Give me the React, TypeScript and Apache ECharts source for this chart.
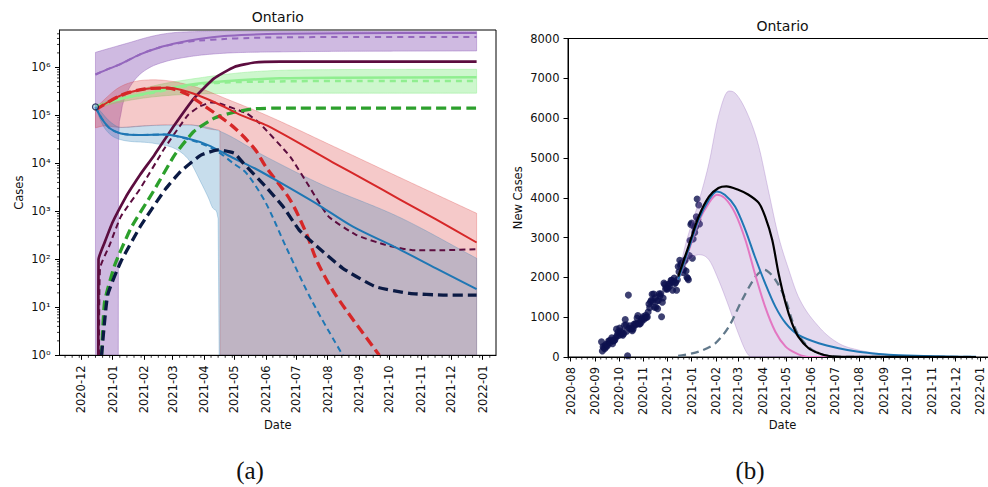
import React, { useEffect, useRef } from 'react';
import * as echarts from 'echarts';

type P = [string, number];

// ---------- tick labels ----------
const leftMonths = ['2020-12', '2021-01', '2021-02', '2021-03', '2021-04', '2021-05', '2021-06', '2021-07', '2021-08', '2021-09', '2021-10', '2021-11', '2021-12', '2022-01'];
const rightMonths = ['2020-08', '2020-09', '2020-10', '2020-11', '2020-12', '2021-01', '2021-02', '2021-03', '2021-04', '2021-05', '2021-06', '2021-07', '2021-08', '2021-09', '2021-10', '2021-11', '2021-12', '2022-01'];
const minorDays = [8, 15, 22, 29];
const logTicks = [1, 10, 100, 1000, 10000, 100000, 1000000];
const logMinorMantissas = [2, 3, 4, 5, 6, 7, 8, 9];

// ---------- panel (a) : cumulative compartments (log scale) ----------
const purpleSolid: P[] = [['2020-12-15', 7.1e5], ['2020-12-29', 9.5e5], ['2021-01-08', 1.15e6], ['2021-01-28', 1.86e6], ['2021-02-16', 2.6e6], ['2021-03-08', 3.3e6], ['2021-03-27', 3.9e6], ['2021-04-21', 4.5e6], ['2021-05-16', 4.8e6], ['2021-06-15', 5.0e6], ['2021-08-20', 5.15e6], ['2021-12-26', 5.2e6]];
const purpleDashed: P[] = [['2020-12-15', 7.1e5], ['2020-12-29', 9.5e5], ['2021-01-08', 1.15e6], ['2021-01-28', 1.86e6], ['2021-02-16', 2.6e6], ['2021-03-08', 3.2e6], ['2021-03-27', 3.6e6], ['2021-04-21', 3.9e6], ['2021-05-16', 4.1e6], ['2021-06-15', 4.2e6], ['2021-08-20', 4.3e6], ['2021-12-26', 4.3e6]];
const purpleUpper: P[] = [['2020-12-15', 2.05e6], ['2020-12-29', 2.5e6], ['2021-01-18', 3.3e6], ['2021-02-06', 4.3e6], ['2021-02-24', 5.1e6], ['2021-03-17', 5.5e6], ['2021-04-21', 5.6e6], ['2021-12-26', 5.6e6]];
const purpleLower: P[] = [['2020-12-15', 0.05], ['2021-01-06 12:00', 0.05], ['2021-01-06 18:00', 2.8e4], ['2021-01-07 12:00', 7.4e4], ['2021-01-10 12:00', 1.6e5], ['2021-01-15 12:00', 3.1e5], ['2021-01-24', 5.9e5], ['2021-02-05', 9.5e5], ['2021-02-21', 1.3e6], ['2021-03-16', 1.65e6], ['2021-04-18', 1.95e6], ['2021-06-15', 2.1e6], ['2021-12-26', 2.2e6]];

const maroonSolid: P[] = [['2020-12-17 18:00', 1], ['2020-12-18', 100], ['2020-12-24', 224], ['2021-01-01', 600], ['2021-01-14', 2000], ['2021-01-20', 3200], ['2021-01-28', 5800], ['2021-02-11', 1.48e4], ['2021-03-03', 6.3e4], ['2021-03-22', 2.24e5], ['2021-04-11', 5.9e5], ['2021-05-01', 1.02e6], ['2021-05-21', 1.26e6], ['2021-06-15', 1.31e6], ['2021-12-26', 1.31e6]];
const maroonDashed: P[] = [['2020-12-18 12:00', 1], ['2020-12-19 12:00', 65], ['2020-12-29', 200], ['2021-01-09', 776], ['2021-01-28', 2950], ['2021-02-21', 2.04e4], ['2021-03-16', 1.0e5], ['2021-03-27', 1.5e5], ['2021-04-08', 1.86e5], ['2021-04-16', 1.78e5], ['2021-05-13', 1.1e5], ['2021-05-26', 6.8e4], ['2021-06-25', 1.38e4], ['2021-07-14', 3240], ['2021-08-02', 776], ['2021-08-29', 324], ['2021-09-27', 200], ['2021-10-24', 155], ['2021-11-23', 155], ['2021-12-26', 162]];

const lightGreenSolid: P[] = [['2020-12-15', 1.5e5], ['2021-01-09', 2.2e5], ['2021-02-11', 3.1e5], ['2021-03-16', 4.3e5], ['2021-04-18', 5.1e5], ['2021-06-15', 5.9e5], ['2021-08-15', 6.1e5], ['2021-12-26', 6.2e5]];
const lightGreenDashed: P[] = [['2020-12-15', 1.5e5], ['2021-01-09', 2.2e5], ['2021-02-11', 3.0e5], ['2021-03-16', 4.1e5], ['2021-04-18', 4.8e5], ['2021-06-15', 5.1e5], ['2021-08-15', 5.2e5], ['2021-12-26', 5.2e5]];
const lightGreenUpper: P[] = [['2020-12-15', 1.6e5], ['2021-01-09', 2.5e5], ['2021-02-08', 4.0e5], ['2021-03-27', 6.0e5], ['2021-05-16', 8.0e5], ['2021-07-15', 8.9e5], ['2021-12-26', 9.1e5]];
const lightGreenLower: P[] = [['2020-12-15', 1.4e5], ['2021-01-09', 1.9e5], ['2021-02-08', 2.4e5], ['2021-03-27', 2.8e5], ['2021-06-15', 2.9e5], ['2021-12-26', 2.9e5]];

const greenDashed: P[] = [['2020-12-21', 1], ['2020-12-24', 13], ['2021-01-03', 76], ['2021-01-19', 447], ['2021-02-11', 2800], ['2021-03-03', 1.48e4], ['2021-03-22', 4.6e4], ['2021-04-11', 8.7e4], ['2021-05-01', 1.17e5], ['2021-05-21', 1.37e5], ['2021-06-15', 1.42e5], ['2021-12-26', 1.42e5]];

const redSolid: P[] = [['2020-12-15', 1.3e5], ['2021-01-09', 2.6e5], ['2021-02-02', 3.55e5], ['2021-02-24', 3.76e5], ['2021-03-16', 3.1e5], ['2021-04-11', 1.9e5], ['2021-05-08', 1.0e5], ['2021-06-03', 6.0e4], ['2021-08-06', 1.05e4], ['2021-09-08', 4370], ['2021-10-11', 1780], ['2021-11-16', 676], ['2021-12-26', 224]];
const redDashed: P[] = [['2020-12-15', 1.3e5], ['2021-01-09', 2.6e5], ['2021-02-02', 3.55e5], ['2021-02-24', 3.7e5], ['2021-03-16', 2.7e5], ['2021-04-01', 1.6e5], ['2021-04-30', 5.75e4], ['2021-05-21', 2.0e4], ['2021-06-01', 8500], ['2021-06-25', 1740], ['2021-07-11', 347], ['2021-07-22', 87], ['2021-08-09', 18], ['2021-09-17', 1.3], ['2021-09-21', 1]];
const redUpper: P[] = [['2020-12-15', 1.45e5], ['2021-01-09', 4.0e5], ['2021-02-11', 5.5e5], ['2021-03-03', 5.0e5], ['2021-03-29', 3.6e5], ['2021-04-21', 2.3e5], ['2021-06-01', 1.02e5], ['2021-08-06', 2.3e4], ['2021-10-11', 5100], ['2021-12-26', 910]];
const redLower: P[] = [['2020-12-15', 5.5e4], ['2020-12-24', 6.0e4], ['2021-01-09', 5.6e4], ['2021-02-11', 6.2e4], ['2021-03-16', 6.4e4], ['2021-04-13', 5.0e4], ['2021-04-16 18:00', 4.8e4], ['2021-04-17', 0.05], ['2021-12-26', 0.05]];

const blueSolid: P[] = [['2020-12-15', 1.5e5], ['2020-12-21', 8.7e4], ['2020-12-29', 5.4e4], ['2021-01-09', 4.2e4], ['2021-01-29', 3.9e4], ['2021-02-21', 4.0e4], ['2021-03-16', 3.3e4], ['2021-04-05', 2.4e4], ['2021-05-01', 1.26e4], ['2021-05-21', 7900], ['2021-06-15', 4000], ['2021-07-24', 1320], ['2021-08-26', 480], ['2021-10-06', 182], ['2021-11-16', 65], ['2021-12-26', 24]];
const blueDashed: P[] = [['2020-12-15', 1.5e5], ['2020-12-21', 8.7e4], ['2020-12-29', 5.4e4], ['2021-01-09', 4.2e4], ['2021-01-29', 3.9e4], ['2021-02-21', 4.0e4], ['2021-03-16', 3.2e4], ['2021-03-27', 2.7e4], ['2021-04-13', 1.85e4], ['2021-04-30', 1.0e4], ['2021-05-13', 6200], ['2021-06-01', 1500], ['2021-06-21', 180], ['2021-07-17', 13], ['2021-08-16', 1]];
const blueUpper: P[] = [['2020-12-15', 1.6e5], ['2020-12-21', 1.15e5], ['2020-12-29', 7.5e4], ['2021-01-09', 5.6e4], ['2021-01-29', 6.0e4], ['2021-03-16', 6.3e4], ['2021-04-13', 5.0e4], ['2021-06-01', 1.38e4], ['2021-07-27', 3550], ['2021-10-11', 750], ['2021-12-26', 105]];
const blueLower: P[] = [['2020-12-15', 1.4e5], ['2020-12-24', 5.4e4], ['2021-01-09', 3.1e4], ['2021-02-11', 2.6e4], ['2021-03-16', 1.26e4], ['2021-03-29', 4000], ['2021-04-05', 2000], ['2021-04-11', 1100], ['2021-04-15', 700], ['2021-04-16', 0.05], ['2021-12-26', 0.05]];

const navyDashed: P[] = [['2020-12-21', 1], ['2020-12-27', 18], ['2021-01-09', 89], ['2021-01-29', 513], ['2021-02-22', 2900], ['2021-03-09', 6760], ['2021-03-29', 1.48e4], ['2021-04-15', 1.9e4], ['2021-05-01', 1.62e4], ['2021-05-10', 1.0e4], ['2021-06-01', 3240], ['2021-06-18', 1260], ['2021-07-04', 407], ['2021-07-21', 190], ['2021-08-16', 65], ['2021-09-17', 27], ['2021-10-21', 19.5], ['2021-11-23', 18], ['2021-12-26', 18]];
const startPoint: P[] = [['2020-12-15', 1.5e5]];

// ---------- panel (b) : new cases ----------
const casesStart = '2020-09-09';
const dailyCases = [
  380, 150, 260, 230, 205, 310, 250, 315, 295, 400,
  405, 365, 425, 480, 335, 410, 410, 435, 490, 700,
  555, 625, 540, 730, 655, 565, 615, 550, 585, 795,
  940, 810, 650, 30, 1555, 720, 785, 710, 705, 660,
  705, 820, 790, 840, 825, 980, 1040, 850, 830, 835,
  935, 895, 975, 1015, 950, 985, 1050, 1000, 1005, 1130,
  1330, 1240, 1390, 1425, 1575, 1395, 1580, 1250, 1485, 1250,
  1415, 1210, 1420, 1590, 1535, 1590, 1010, 1375, 1480, 1855,
  1820, 1710, 1745, 1705, 1725, 1825, 1780, 1860, 1925, 1925,
  1675, 1890, 1985, 1850, 1875, 1675, 1940, 2275, 2140, 2430,
  2290, 2355, 2315, 2125, 2200, 2410, 2445, 2160, 2005, 1980,
  1940, 2550, 2925, 3330, 3365, 2480, 2965, 3270, 3130, 3265,
  3520, 3970, 3445, 3820, 3340,
];
const bandUpperB: P[] = [['2020-12-15', 2000], ['2020-12-24', 2800], ['2021-01-10', 3900], ['2021-01-23', 4870], ['2021-02-04', 6050], ['2021-02-17', 6680], ['2021-02-25', 6630], ['2021-03-14', 6050], ['2021-03-27', 5290], ['2021-04-08', 4200], ['2021-04-21', 3030], ['2021-05-04', 2190], ['2021-05-16', 1520], ['2021-06-11', 760], ['2021-07-06', 345], ['2021-07-31', 176], ['2021-08-26', 90], ['2021-09-20', 45], ['2021-11-22', 12], ['2021-12-27', 5]];
const bandLowerB: P[] = [['2020-12-15', 1950], ['2020-12-28', 2400], ['2021-01-10', 2570], ['2021-01-23', 2440], ['2021-02-04', 1940], ['2021-02-17', 1270], ['2021-03-01', 600], ['2021-03-12', 100], ['2021-03-18', 0], ['2021-12-27', 0]];
const blackB: P[] = [['2020-12-15', 2020], ['2020-12-28', 2775], ['2021-01-10', 3530], ['2021-01-23', 4030], ['2021-02-04', 4245], ['2021-02-14', 4285], ['2021-03-01', 4200], ['2021-03-14', 4075], ['2021-03-27', 3870], ['2021-04-04', 3530], ['2021-04-13', 2945], ['2021-04-21', 2105], ['2021-04-30', 1350], ['2021-05-08', 850], ['2021-05-16', 510], ['2021-05-29', 220], ['2021-06-11', 95], ['2021-06-24', 25], ['2021-07-10', 5], ['2021-12-27', 0]];
const blueB: P[] = [['2020-12-15', 1940], ['2020-12-28', 2690], ['2021-01-10', 3450], ['2021-01-23', 3950], ['2021-02-02', 4160], ['2021-02-12', 4075], ['2021-02-25', 3780], ['2021-03-10', 3195], ['2021-03-22', 2525], ['2021-04-04', 1855], ['2021-04-17', 1265], ['2021-04-30', 850], ['2021-05-16', 555], ['2021-06-11', 345], ['2021-07-06', 220], ['2021-07-31', 130], ['2021-08-26', 75], ['2021-09-20', 45], ['2021-11-22', 12], ['2021-12-27', 4]];
const pinkB: P[] = [['2020-12-15', 1940], ['2020-12-28', 2650], ['2021-01-10', 3405], ['2021-01-23', 3870], ['2021-02-02', 4075], ['2021-02-12', 3990], ['2021-02-25', 3615], ['2021-03-10', 2945], ['2021-03-22', 2105], ['2021-04-04', 1265], ['2021-04-17', 635], ['2021-04-30', 260], ['2021-05-13', 95], ['2021-05-26', 8], ['2021-06-15', 0], ['2021-12-27', 0]];
const grayDashedB: P[] = [['2020-12-15', 25], ['2021-01-10', 135], ['2021-01-31', 345], ['2021-02-17', 760], ['2021-03-06', 1435], ['2021-03-23', 2020], ['2021-04-03', 2190], ['2021-04-17', 1940], ['2021-04-30', 1435], ['2021-05-08', 930], ['2021-05-16', 560], ['2021-05-29', 250], ['2021-06-11', 90], ['2021-06-24', 25], ['2021-07-10', 5], ['2021-12-27', 0]];

// ---------- helpers ----------
const FONT = 'DejaVu Sans';
const ts = (s: string) => {
  const [d, t] = s.split(' ');
  const [y, m, day] = d.split('-').map(Number);
  let h = 0, mi = 0;
  if (t) [h, mi] = t.split(':').map(Number);
  return new Date(y, m - 1, day || 1, h, mi).getTime();
};
const LEFT_MIN = ts('2020-11-09 12:00');
const LEFT_MAX = ts('2022-01-14 03:00');
const RIGHT_MIN = ts('2020-07-28 14:00');
const RIGHT_MAX = ts('2022-01-22 12:00');

const SUP: Record<string, string> = { '0': '⁰', '1': '¹', '2': '²', '3': '³', '4': '⁴', '5': '⁵', '6': '⁶', '7': '⁷', '8': '⁸', '9': '⁹' };
const fmtLog = (v: number) => {
  const e = Math.log10(v);
  if (Math.abs(e - Math.round(e)) > 0.01) return '';
  return '10' + String(Math.round(e)).split('').map((c) => SUP[c]).join('');
};
const fmtMonth = (v: number) => {
  const d = new Date(v);
  if (d.getDate() !== 1 || d.getHours() !== 0) return '';
  return `${d.getFullYear()}-${String(d.getMonth() + 1).padStart(2, '0')}`;
};
const monthTs = (arr: string[]) => arr.map((m) => ts(m + '-01'));
const minorTs = (lo: number, hi: number) => {
  const out: number[] = [];
  const s = new Date(lo);
  const y = s.getFullYear();
  for (let mo = s.getMonth(); ; mo++) {
    const base = new Date(y, mo, 1).getTime();
    if (base > hi) break;
    for (const d of minorDays) {
      const dt = new Date(y, mo, d);
      const t = dt.getTime();
      if (dt.getDate() === d && t >= lo && t <= hi) out.push(t);
    }
  }
  return out;
};

const toData = (arr: P[]) => arr.map(([d, v]) => [ts(d), v]);

// monotone cubic resampling of an edge already projected to pixels (rendering only)
const smoothEdge = (pts: number[][]) => {
  const n = pts.length;
  if (n < 3) return pts;
  const xs = pts.map((p) => p[0]);
  const ys = pts.map((p) => p[1]);
  const d: number[] = [];
  const m: number[] = [];
  for (let i = 0; i < n - 1; i++) d[i] = (ys[i + 1] - ys[i]) / Math.max(xs[i + 1] - xs[i], 1e-6);
  m[0] = d[0];
  m[n - 1] = d[n - 2];
  for (let i = 1; i < n - 1; i++) m[i] = d[i - 1] * d[i] <= 0 ? 0 : (d[i - 1] + d[i]) / 2;
  for (let i = 0; i < n - 1; i++) {
    if (d[i] === 0) { m[i] = 0; m[i + 1] = 0; continue; }
    const a = m[i] / d[i];
    const b = m[i + 1] / d[i];
    const s = a * a + b * b;
    if (s > 9) { const t = 3 / Math.sqrt(s); m[i] = t * a * d[i]; m[i + 1] = t * b * d[i]; }
  }
  const out: number[][] = [];
  for (let i = 0; i < n - 1; i++) {
    const h = xs[i + 1] - xs[i];
    const steps = Math.max(1, Math.ceil(h / 2));
    for (let k = 0; k < steps; k++) {
      const t = k / steps;
      const t2 = t * t, t3 = t2 * t;
      const y = (2 * t3 - 3 * t2 + 1) * ys[i] + (t3 - 2 * t2 + t) * h * m[i] + (-2 * t3 + 3 * t2) * ys[i + 1] + (t3 - t2) * h * m[i + 1];
      out.push([xs[i] + t * h, y]);
    }
  }
  out.push([xs[n - 1], ys[n - 1]]);
  return out;
};

const line = (data: P[], color: string, width: number, dash: any, gi: number, smooth = 0.3) => ({
  type: 'line',
  xAxisIndex: gi,
  yAxisIndex: gi,
  data: toData(data),
  showSymbol: false,
  symbol: 'none',
  smooth,
  silent: true,
  z: 3,
  clip: true,
  emphasis: { disabled: true },
  lineStyle: { color, width, type: dash, cap: 'butt', join: 'round' },
});

const band = (upper: P[], lower: P[], fill: string, stroke: string, gi: number) => ({
  type: 'custom',
  xAxisIndex: gi,
  yAxisIndex: gi,
  z: 2,
  silent: true,
  data: [[ts(upper[0][0]), upper[0][1]]],
  renderItem: (params: any, api: any) => {
    const cs = params.coordSys;
    const cl = (p: number[]) => [
      Math.min(Math.max(p[0], cs.x), cs.x + cs.width),
      Math.min(Math.max(p[1], cs.y - 200), cs.y + cs.height + 200),
    ];
    const up = smoothEdge(upper.map(([d, v]) => cl(api.coord([ts(d), v]))));
    const lo = smoothEdge(lower.map(([d, v]) => cl(api.coord([ts(d), v]))));
    const clampY = (p: number[]) => [p[0], Math.min(Math.max(p[1], cs.y), cs.y + cs.height)];
    const pts = [...up.map(clampY), ...lo.reverse().map(clampY)];
    return { type: 'polygon', shape: { points: pts }, style: { fill, stroke, lineWidth: 1 } };
  },
});

const xMinorTicks = (gi: number, lo: number, hi: number, yRef: number) => ({
  type: 'custom',
  xAxisIndex: gi,
  yAxisIndex: gi,
  z: 6,
  silent: true,
  data: minorTs(lo, hi).map((t) => [t, yRef]),
  renderItem: (params: any, api: any) => {
    const cs = params.coordSys;
    const x = api.coord([api.value(0), yRef])[0];
    const y0 = cs.y + cs.height;
    return { type: 'line', shape: { x1: x, y1: y0, x2: x, y2: y0 + 2.5 }, style: { stroke: '#000', lineWidth: 0.8 } };
  },
});

const logMinorValues: number[] = [];
for (const t of logTicks) for (const m of logMinorMantissas) if (m * t < 6e6) logMinorValues.push(m * t);

const yMinorTicks = {
  type: 'custom',
  xAxisIndex: 0,
  yAxisIndex: 0,
  z: 6,
  silent: true,
  data: logMinorValues.map((v) => [LEFT_MIN, v]),
  renderItem: (params: any, api: any) => {
    const cs = params.coordSys;
    const y = api.coord([LEFT_MIN, api.value(1)])[1];
    return { type: 'line', shape: { x1: cs.x - 2.5, y1: y, x2: cs.x, y2: y }, style: { stroke: '#000', lineWidth: 0.8 } };
  },
};

const labelStyle = { fontSize: 11.5, color: '#111', fontFamily: FONT };

function buildOption() {
  const leftMonthTs = monthTs(leftMonths);
  const rightMonthTs = monthTs(rightMonths);
  const xAxisBase = (gi: number, min: number, max: number, months: number[], gap: number) => ({
    type: 'value',
    gridIndex: gi,
    min,
    max,
    z: 5,
    axisLine: { show: true, onZero: false, lineStyle: { color: '#000', width: 1 } },
    axisTick: { show: true, length: 4.5, lineStyle: { color: '#000', width: 1 }, customValues: months },
    axisLabel: { show: true, rotate: 90, margin: 10, ...labelStyle, customValues: months, formatter: fmtMonth, hideOverlap: false, showMinLabel: true, showMaxLabel: true },
    splitLine: { show: false },
    minorTick: { show: false },
    name: 'Date',
    nameLocation: 'middle',
    nameGap: gap,
    nameMoveOverlap: false,
    nameTextStyle: labelStyle,
  });

  const series: any[] = [
    // panel (a) bands
    band(purpleUpper, purpleLower, 'rgba(148,103,189,0.45)', 'rgba(148,103,189,0.45)', 0),
    band(lightGreenUpper, lightGreenLower, 'rgba(144,238,144,0.45)', 'rgba(144,238,144,0.45)', 0),
    band(redUpper, redLower, 'rgba(214,39,40,0.25)', 'rgba(214,39,40,0.25)', 0),
    band(blueUpper, blueLower, 'rgba(31,119,180,0.25)', 'rgba(31,119,180,0.25)', 0),
    // panel (a) lines
    line(purpleSolid, '#9467bd', 2, 'solid', 0),
    line(purpleDashed, '#9467bd', 2, [6, 5], 0),
    line(lightGreenSolid, '#90ee90', 2.5, 'solid', 0),
    line(lightGreenDashed, '#90ee90', 2.5, [6, 5], 0),
    line(maroonSolid, '#5c0d3f', 2.7, 'solid', 0, 0.15),
    line(maroonDashed, '#5c0d3f', 2, [6, 4], 0, 0.15),
    line(greenDashed, '#2ca02c', 3.3, [10, 5], 0, 0.15),
    line(redSolid, '#d62728', 2, 'solid', 0),
    line(redDashed, '#d62728', 3.3, [10, 5], 0),
    line(blueSolid, '#1f77b4', 2, 'solid', 0),
    line(blueDashed, '#1f77b4', 2, [6, 4], 0),
    line(navyDashed, '#0b1a44', 3.3, [10, 5], 0, 0.15),
    {
      type: 'scatter', xAxisIndex: 0, yAxisIndex: 0, z: 4, silent: true,
      data: toData(startPoint), symbol: 'circle', symbolSize: 6,
      itemStyle: { color: 'rgba(120,170,220,0.6)', borderColor: '#0b1a44', borderWidth: 1.2 },
    },
    yMinorTicks,
    xMinorTicks(0, LEFT_MIN, LEFT_MAX, 1),
    // panel (b)
    {
      type: 'scatter', xAxisIndex: 1, yAxisIndex: 1, z: 1, silent: true,
      data: dailyCases.map((v, i) => [ts(casesStart) + i * 86400000, v]),
      symbol: 'circle', symbolSize: 7,
      itemStyle: { color: '#0e124f' },
    },
    band(bandUpperB, bandLowerB, 'rgba(148,103,189,0.25)', 'rgba(148,103,189,0.3)', 1),
    line(grayDashedB, '#62798b', 2.3, [8, 5], 1),
    line(pinkB, '#e377c2', 2, 'solid', 1),
    line(blueB, '#1f77b4', 2, 'solid', 1),
    line(blackB, '#000000', 2.2, 'solid', 1),
    xMinorTicks(1, RIGHT_MIN, RIGHT_MAX, 0),
  ];

  return {
    animation: false,
    textStyle: { fontFamily: FONT },
    title: [
      { text: 'Ontario', left: 277.75, top: 10, textAlign: 'center', padding: 0, textStyle: { fontSize: 14, fontWeight: 'normal', color: '#111', fontFamily: FONT } },
      { text: 'Ontario', left: 782.5, top: 18.5, textAlign: 'center', padding: 0, textStyle: { fontSize: 14, fontWeight: 'normal', color: '#111', fontFamily: FONT } },
    ],
    grid: [
      { left: 59.5, top: 30, width: 436.5, height: 325.3, show: true, borderColor: '#000', borderWidth: 1, backgroundColor: 'transparent', containLabel: false, outerBoundsMode: 'none' },
      { left: 568, top: 38.5, width: 429, height: 318.5, show: true, borderColor: '#000', borderWidth: 1, backgroundColor: 'transparent', containLabel: false, outerBoundsMode: 'none' },
    ],
    xAxis: [
      xAxisBase(0, LEFT_MIN, LEFT_MAX, leftMonthTs, 64),
      xAxisBase(1, RIGHT_MIN, RIGHT_MAX, rightMonthTs, 62),
    ],
    yAxis: [
      {
        type: 'log', logBase: 10, gridIndex: 0, min: 1, max: 6e6, z: 5,
        axisLine: { show: true, lineStyle: { color: '#000', width: 1 } },
        axisTick: { show: true, length: 4.5, lineStyle: { color: '#000', width: 1 }, customValues: logTicks },
        axisLabel: { show: true, margin: 9, ...labelStyle, customValues: logTicks, formatter: fmtLog },
        splitLine: { show: false },
        minorTick: { show: false },
        name: 'Cases', nameLocation: 'middle', nameGap: 35, nameMoveOverlap: false, nameTextStyle: labelStyle,
      },
      {
        type: 'value', gridIndex: 1, min: 0, max: 8000, interval: 1000, z: 5,
        axisLine: { show: true, lineStyle: { color: '#000', width: 1 } },
        axisTick: { show: true, length: 4.5, lineStyle: { color: '#000', width: 1 } },
        axisLabel: { show: true, margin: 8.5, ...labelStyle, formatter: (v: number) => String(Math.round(v)) },
        splitLine: { show: false },
        name: 'New Cases', nameLocation: 'middle', nameGap: 44, nameMoveOverlap: false, nameTextStyle: labelStyle,
      },
    ],
    series,
    graphic: [
      { type: 'text', x: 250, y: 470.7, style: { text: '(a)', font: '25px "Liberation Serif"', fill: '#111', align: 'center', verticalAlign: 'middle', textAlign: 'center', textVerticalAlign: 'middle' } },
      { type: 'text', x: 750, y: 470.7, style: { text: '(b)', font: '25px "Liberation Serif"', fill: '#111', align: 'center', verticalAlign: 'middle', textAlign: 'center', textVerticalAlign: 'middle' } },
    ],
  };
}

export default function App() {
  const ref = useRef<HTMLDivElement>(null);
  useEffect(() => {
    if (!ref.current) return;
    const chart = echarts.init(ref.current, undefined, { renderer: 'svg', width: 988, height: 487 });
    chart.setOption(buildOption() as any);
    return () => chart.dispose();
  }, []);
  return <div ref={ref} style={{ position: 'absolute', left: 0, top: 0, width: 988, height: 487 }} />;
}
